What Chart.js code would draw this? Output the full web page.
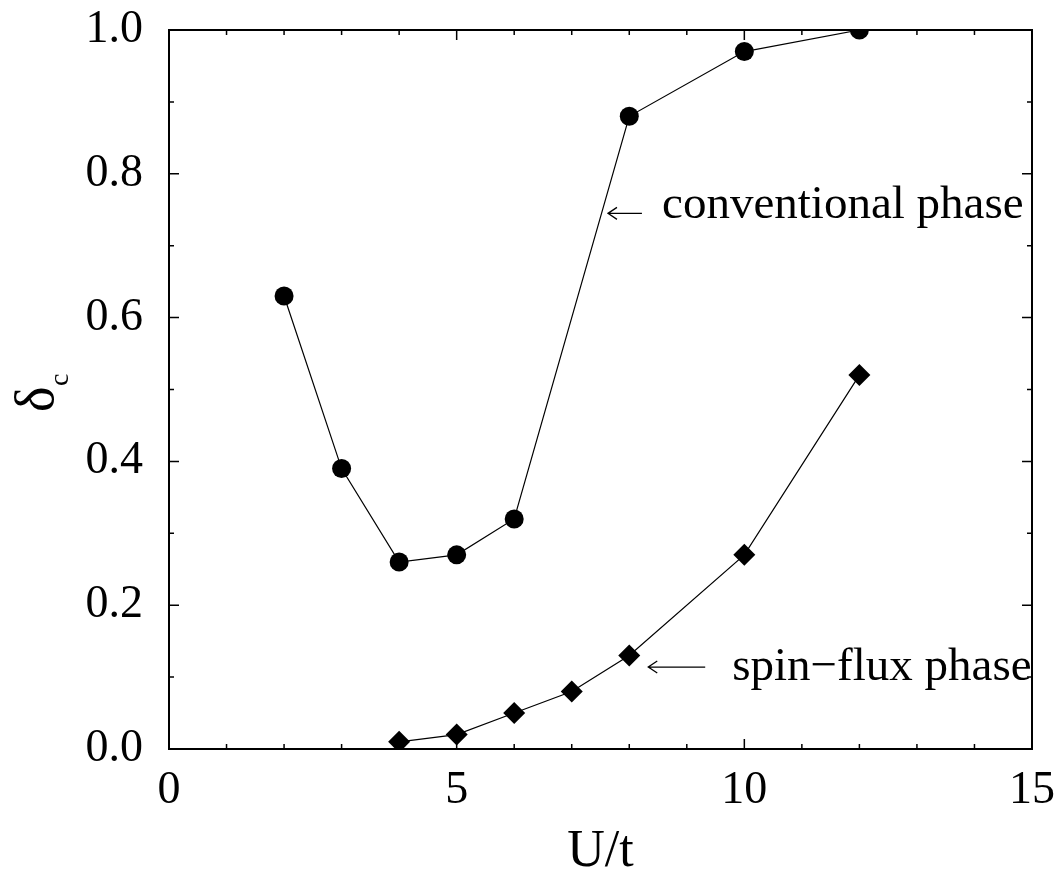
<!DOCTYPE html>
<html>
<head>
<meta charset="utf-8">
<script src="https://cdn.jsdelivr.net/npm/chart.js@4/dist/chart.umd.min.js"></script>
<style>
  html, body { margin: 0; padding: 0; background: #fff; }
  #wrap { width: 1056px; height: 874px; }
</style>
</head>
<body>
<div id="wrap"><canvas id="c" width="1056" height="874"></canvas></div>
<script>
// conventional phase (circles)
const uConv = [2, 3, 4, 5, 6, 8, 10, 12];
const dConv = [0.63, 0.39, 0.26, 0.27, 0.32, 0.88, 0.97, 1.00];
// spin-flux phase (diamonds)
const uFlux = [4, 5, 6, 7, 8, 10, 12];
const dFlux = [0.01, 0.02, 0.05, 0.08, 0.13, 0.27, 0.52];

// tick values
const xMajor = [0, 5, 10, 15];
const xMinor = [1, 2, 3, 4, 6, 7, 8, 9, 11, 12, 13, 14];
const yMajor = [0, 0.2, 0.4, 0.6, 0.8, 1.0];
const yMinor = [0.1, 0.3, 0.5, 0.7, 0.9];

const SERIF = "'Liberation Serif', 'Times New Roman', serif";

// labels with arrows, anchored in data units
const notes = [
  { text: "conventional phase", ax0: 7.63, ax1: 8.22, ay: 0.745, tx: 8.57, ty: 0.7385 },
  { text: "spin\u2212flux phase", ax0: 8.33, ax1: 9.32, ay: 0.114, tx: 9.79, ty: 0.096 },
];

const pts = (xs, ys) => xs.map((x, i) => ({ x, y: ys[i] }));

// frame, inward ticks on all four sides, annotations, y title
const frame = {
  id: "frame",
  afterDatasetsDraw(chart) {
    const { ctx, chartArea: { left, right, top, bottom }, scales: { x, y } } = chart;
    ctx.save();
    ctx.strokeStyle = "#000";
    ctx.lineWidth = 1.5;
    const tick = (vals, len) => {
      vals.forEach((v) => {
        const px = x.getPixelForValue(v);
        ctx.beginPath();
        ctx.moveTo(px, bottom); ctx.lineTo(px, bottom - len);
        ctx.moveTo(px, top); ctx.lineTo(px, top + len);
        ctx.stroke();
      });
    };
    const tickY = (vals, len) => {
      vals.forEach((v) => {
        const py = y.getPixelForValue(v);
        ctx.beginPath();
        ctx.moveTo(left, py); ctx.lineTo(left + len, py);
        ctx.moveTo(right, py); ctx.lineTo(right - len, py);
        ctx.stroke();
      });
    };
    tick(xMajor, 10); tick(xMinor, 5);
    tickY(yMajor, 10); tickY(yMinor, 5);

    ctx.lineWidth = 2;
    ctx.strokeRect(left, top, right - left, bottom - top);

    // arrows + labels
    ctx.fillStyle = "#000";
    ctx.font = "47px " + SERIF;
    ctx.textAlign = "left";
    ctx.textBaseline = "alphabetic";
    notes.forEach((n) => {
      const x0 = x.getPixelForValue(n.ax0), x1 = x.getPixelForValue(n.ax1);
      const ay = y.getPixelForValue(n.ay);
      ctx.lineWidth = 1.3;
      ctx.beginPath();
      ctx.moveTo(x1, ay); ctx.lineTo(x0, ay);
      ctx.moveTo(x0 + 9, ay - 6); ctx.lineTo(x0, ay); ctx.lineTo(x0 + 9, ay + 6);
      ctx.stroke();
      ctx.fillText(n.text, x.getPixelForValue(n.tx), y.getPixelForValue(n.ty));
    });

    // y title: delta, then subscript c, both rotated
    ctx.save();
    ctx.translate(53, 412);
    ctx.rotate(-Math.PI / 2);
    ctx.font = "54px " + SERIF;
    ctx.fillText("\u03b4", 0, 0);
    ctx.restore();
    ctx.save();
    ctx.translate(68, 386);
    ctx.rotate(-Math.PI / 2);
    ctx.font = "28px " + SERIF;
    ctx.fillText("c", 0, 0);
    ctx.restore();

    // x title
    ctx.font = "52px " + SERIF;
    ctx.textAlign = "center";
    ctx.fillText("U/t", (left + right) / 2, 866);
    ctx.restore();
  },
};

new Chart(document.getElementById("c"), {
  type: "line",
  data: {
    datasets: [
      {
        label: "conventional phase",
        data: pts(uConv, dConv),
        borderColor: "#000",
        borderWidth: 1.2,
        backgroundColor: "#000",
        pointStyle: "circle",
        pointRadius: 9.5,
        pointBorderWidth: 0,
        tension: 0,
      },
      {
        label: "spin-flux phase",
        data: pts(uFlux, dFlux),
        borderColor: "#000",
        borderWidth: 1.2,
        backgroundColor: "#000",
        pointStyle: "rectRot",
        pointRadius: 11,
        pointBorderWidth: 0,
        tension: 0,
      },
    ],
  },
  options: {
    responsive: false,
    animation: false,
    layout: { padding: { left: 0, right: 24, top: 30, bottom: 0 } },
    plugins: { legend: { display: false }, tooltip: { enabled: false } },
    scales: {
      x: {
        type: "linear",
        min: 0, max: 15,
        grid: { display: false },
        border: { display: false },
        ticks: { stepSize: 5, color: "#000", font: { family: SERIF, size: 46 }, padding: 6 },
        afterFit: (s) => { s.height = 125; s.paddingLeft = 0; s.paddingRight = 0; },
      },
      y: {
        min: 0, max: 1,
        grid: { display: false },
        border: { display: false },
        ticks: {
          stepSize: 0.2, color: "#000", font: { family: SERIF, size: 46 }, padding: 18,
          callback: (v) => v.toFixed(1),
        },
        afterFit: (s) => { s.width = 169; s.paddingTop = 0; s.paddingBottom = 0; },
      },
    },
  },
  plugins: [frame],
});
</script>
</body>
</html>
